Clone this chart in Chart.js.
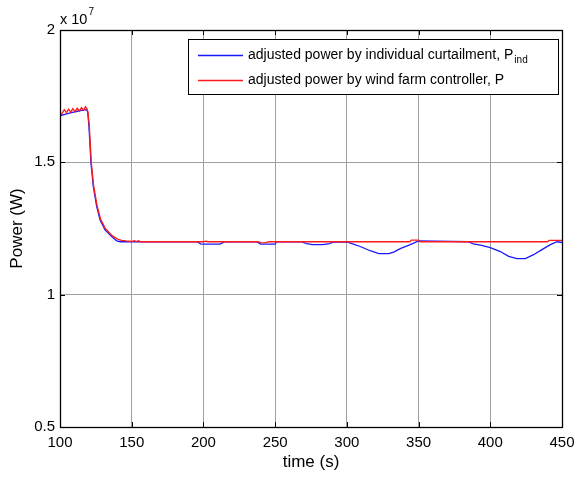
<!DOCTYPE html>
<html>
<head>
<meta charset="utf-8">
<script src="https://cdn.jsdelivr.net/npm/chart.js@4/dist/chart.umd.min.js"></script>
<style>
  html, body { margin: 0; padding: 0; background: #fff; }
  #wrap { width: 576px; height: 479px; }
</style>
</head>
<body>
<div id="wrap"><canvas id="c" width="576" height="479"></canvas></div>
<script>
// time axis (s) and power values (x 10^7 W)
const xTicks = [100, 150, 200, 250, 300, 350, 400, 450];
const yTicks = [0.5, 1, 1.5, 2];
const yTickLabels = ['0.5', '1', '1.5', '2'];

// adjusted power by individual curtailment, P_ind
const indTime = [100, 104, 108, 112, 116, 118.5, 119.3, 120.2, 121.6, 123.2,
    125.6, 127.9, 131.4, 136, 139.5, 142, 150, 195.5, 198, 200,
    211.5, 215, 237, 240, 250, 251, 268, 272, 276, 283,
    288, 290.5, 295, 300, 304, 309.3, 316.3, 322.3, 329.3, 333,
    337.2, 344.2, 350, 384.7, 388.2, 394, 400, 407, 412.8, 418.6,
    424.4, 430.2, 436, 441.9, 446.5, 450];
const indPower = [1.676, 1.682, 1.688, 1.693, 1.697, 1.699, 1.69, 1.635, 1.497, 1.409,
    1.333, 1.283, 1.245, 1.22, 1.203, 1.2, 1.2, 1.2, 1.192, 1.191,
    1.191, 1.2, 1.2, 1.191, 1.191, 1.2, 1.2, 1.193, 1.189, 1.189,
    1.193, 1.199, 1.2, 1.199, 1.192, 1.182, 1.166, 1.155, 1.155, 1.162,
    1.174, 1.189, 1.203, 1.2, 1.192, 1.186, 1.178, 1.163, 1.145, 1.136,
    1.136, 1.151, 1.17, 1.189, 1.2, 1.197];

// adjusted power by wind farm controller, P
const wfcTime = [100, 101.5, 103, 104.5, 106, 107.5, 109, 110.5, 112, 113.5,
    115, 116.5, 117.7, 118.7, 119.5, 120.4, 121.8, 123.4, 125.8, 128.2,
    131.7, 136.4, 140, 143, 146, 150, 152, 153, 155, 156,
    160, 200, 202, 203, 238, 240, 243, 245, 246, 344,
    345, 350, 351, 440, 441, 450];
const wfcPower = [1.672, 1.686, 1.699, 1.688, 1.701, 1.69, 1.703, 1.692, 1.705, 1.694,
    1.707, 1.697, 1.71, 1.703, 1.69, 1.64, 1.50, 1.413, 1.337, 1.287,
    1.249, 1.223, 1.21, 1.205, 1.203, 1.201, 1.204, 1.2, 1.204, 1.2,
    1.2, 1.2, 1.202, 1.2, 1.2, 1.197, 1.196, 1.199, 1.2, 1.2,
    1.206, 1.206, 1.2, 1.2, 1.205, 1.205];

const FONT = '"Liberation Sans", Arial, Helvetica, sans-serif';

const toPoints = (ts, vs) => ts.map((t, i) => ({ x: t, y: vs[i] }));

// matlab-ish frame: box, inward ticks, exponent label, legend
const matlabFrame = {
    id: 'matlabFrame',
    afterDraw(chart) {
        const ctx = chart.ctx;
        const a = chart.chartArea;
        const xs = chart.scales.x, ys = chart.scales.y;
        ctx.save();
        ctx.strokeStyle = '#000';
        ctx.lineWidth = 1;
        ctx.beginPath();
        xTicks.forEach(t => {
            const px = Math.round(xs.getPixelForValue(t)) + 0.5;
            ctx.moveTo(px, a.bottom); ctx.lineTo(px, a.bottom - 5);
            ctx.moveTo(px, a.top); ctx.lineTo(px, a.top + 5);
        });
        yTicks.forEach(v => {
            const py = Math.round(ys.getPixelForValue(v)) + 0.5;
            ctx.moveTo(a.left, py); ctx.lineTo(a.left + 5, py);
            ctx.moveTo(a.right, py); ctx.lineTo(a.right - 5, py);
        });
        ctx.stroke();
        ctx.lineWidth = 1.3;
        ctx.strokeRect(Math.round(a.left) + 0.5, Math.round(a.top) + 0.5,
            Math.round(a.right - a.left), Math.round(a.bottom - a.top));

        // exponent
        ctx.fillStyle = '#000';
        ctx.textBaseline = 'alphabetic';
        ctx.textAlign = 'left';
        ctx.font = '14.5px ' + FONT;
        ctx.fillText('x 10', a.left, a.top - 6);
        const w10 = ctx.measureText('x 10').width;
        ctx.font = '10px ' + FONT;
        ctx.fillText('7', a.left + 1 + w10, a.top - 15);

        // legend
        const lx = 188, ly = 39, lw = 370, lh = 55;
        ctx.fillStyle = '#fff';
        ctx.fillRect(lx, ly, lw, lh);
        ctx.lineWidth = 1;
        ctx.strokeStyle = '#000';
        ctx.strokeRect(lx + 0.5, ly + 0.5, lw, lh);
        const rows = [
            { color: '#1a1aff', text: 'adjusted power by individual curtailment, P', sub: 'ind', y: ly + 16 },
            { color: '#ff1a1a', text: 'adjusted power by wind farm controller, P', sub: '', y: ly + 41 }
        ];
        rows.forEach(r => {
            ctx.strokeStyle = r.color;
            ctx.lineWidth = 1.4;
            ctx.beginPath();
            ctx.moveTo(lx + 10, r.y + 0.5);
            ctx.lineTo(lx + 55, r.y + 0.5);
            ctx.stroke();
            ctx.fillStyle = '#000';
            ctx.font = '14px ' + FONT;
            ctx.textBaseline = 'middle';
            ctx.fillText(r.text, lx + 60, r.y);
            if (r.sub) {
                const w = ctx.measureText(r.text).width;
                ctx.font = '10px ' + FONT;
                ctx.fillText(r.sub, lx + 61 + w, r.y + 5);
            }
        });
        ctx.restore();
    }
};

new Chart(document.getElementById('c'), {
    type: 'line',
    data: {
        datasets: [
            {
                label: 'adjusted power by individual curtailment, P_ind',
                data: toPoints(indTime, indPower),
                borderColor: '#1a1aff',
                borderWidth: 1.3,
                pointRadius: 0,
                tension: 0,
                order: 1
            },
            {
                label: 'adjusted power by wind farm controller, P',
                data: toPoints(wfcTime, wfcPower),
                borderColor: '#ff1a1a',
                borderWidth: 1.3,
                pointRadius: 0,
                tension: 0,
                order: 0
            }
        ]
    },
    options: {
        responsive: false,
        animation: false,
        devicePixelRatio: 1,
        layout: { padding: { top: 30, right: 14, left: 0, bottom: 0 } },
        plugins: { legend: { display: false }, tooltip: { enabled: false } },
        scales: {
            x: {
                type: 'linear',
                min: 100, max: 450,
                afterBuildTicks: s => { s.ticks = xTicks.map(v => ({ value: v })); },
                afterFit: s => { s.height = 52; s.paddingLeft = 0; s.paddingRight = 0; },
                grid: { color: '#a0a0a0', drawTicks: false },
                border: { display: false },
                ticks: { color: '#000', padding: 7, font: { family: FONT, size: 15 }, maxRotation: 0 },
                title: { display: true, text: 'time (s)', color: '#000', font: { family: FONT, size: 17 }, padding: { top: 0, bottom: 6 } }
            },
            y: {
                type: 'linear',
                min: 0.5, max: 2,
                afterBuildTicks: s => { s.ticks = yTicks.map(v => ({ value: v })); },
                afterFit: s => { s.width = 60; s.paddingTop = 0; s.paddingBottom = 0; },
                grid: { color: '#a0a0a0', drawTicks: false },
                border: { display: false },
                ticks: {
                    color: '#000', padding: 5, font: { family: FONT, size: 15 },
                    callback: v => yTickLabels[yTicks.indexOf(v)]
                },
                title: { display: true, text: 'Power (W)', color: '#000', font: { family: FONT, size: 17 }, padding: { top: 7, bottom: 0 } }
            }
        }
    },
    plugins: [matlabFrame]
});
</script>
</body>
</html>
